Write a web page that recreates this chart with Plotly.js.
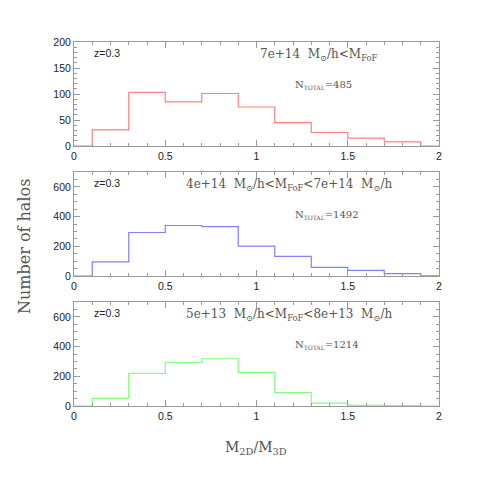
<!DOCTYPE html>
<html>
<head>
<meta charset="utf-8">
<script src="https://cdn.plot.ly/plotly-3.0.1.min.js"></script>
<style>html,body{margin:0;padding:0;background:#fff;}#chart{width:479px;height:479px;}</style>
</head>
<body>
<div id="chart"></div>
<script>
// Bin edges (M2D/M3D) used for the step histograms
const binEdges = [0, 0.1, 0.3, 0.5, 0.7, 0.9, 1.1, 1.3, 1.5, 1.7, 1.9, 2.0];
// Counts per bin (first and last entries are the empty end regions)
const countsHigh = [0, 31, 103, 85, 101, 75, 45, 26, 15, 8, 0, 0];      // 7e+14 < M_FoF
const countsMid  = [0, 96, 293, 340, 333, 201, 132, 58, 38, 16, 2, 2];  // 4e+14 - 7e+14
const countsLow  = [0, 51, 219, 293, 318, 226, 90, 20, 4, 2, 0, 0];     // 5e+13 - 8e+13

const panelTitles = [
  "7e+14  M<sub>⊙</sub>/h&lt;M<sub>FoF</sub>",
  "4e+14  M<sub>⊙</sub>/h&lt;M<sub>FoF</sub>&lt;7e+14  M<sub>⊙</sub>/h",
  "5e+13  M<sub>⊙</sub>/h&lt;M<sub>FoF</sub>&lt;8e+13  M<sub>⊙</sub>/h"
];
const nTotals = ["485", "1492", "1214"];
const redshiftLabel = "z=0.3";
const xTicks = [0, 0.5, 1, 1.5, 2];
const xTickText = ["0", "0.5", "1", "1.5", "2"];

const colors = ["rgb(255,128,128)", "rgb(128,128,255)", "rgb(128,255,128)"];
const series = [countsHigh, countsMid, countsLow];
const axisNames = ["", "2", "3"];

const traces = series.map((s, i) => ({
  x: binEdges, y: s, type: "scatter", mode: "lines",
  line: {shape: "hv", color: colors[i], width: 1.2},
  xaxis: "x" + axisNames[i], yaxis: "y" + axisNames[i],
  hoverinfo: "skip", showlegend: false
}));

const sans = "Liberation Sans, Arial, sans-serif";
const serif = "DejaVu Serif, serif";

function xax(anchor) {
  return {
    range: [0, 2], anchor: anchor, domain: [0, 1],
    showline: true, linecolor: "#999", linewidth: 1, mirror: "ticks",
    ticks: "inside", ticklen: 6, tickcolor: "#999", tickwidth: 1,
    tickvals: xTicks, ticktext: xTickText,
    minor: {dtick: 0.1, ticks: "inside", ticklen: 3, tickcolor: "#999"},
    showgrid: false, zeroline: false,
    tickfont: {family: sans, size: 10.5, color: "#222"}
  };
}
function yax(anchor, dom, max, dt, mdt) {
  return {
    range: [0, max], anchor: anchor, domain: dom,
    showline: true, linecolor: "#999", linewidth: 1, mirror: "ticks",
    ticks: "inside", ticklen: 6, tickcolor: "#999", tickwidth: 1,
    dtick: dt, tick0: 0,
    minor: {dtick: mdt, ticks: "inside", ticklen: 3, tickcolor: "#999"},
    showgrid: false, zeroline: false,
    tickfont: {family: sans, size: 10.5, color: "#222"}
  };
}

const doms = [[0.7143, 1], [0.357, 0.6429], [0, 0.2857]];
const annotations = [];
for (let i = 0; i < 3; i++) {
  const xr = "x" + axisNames[i] + " domain", yr = "y" + axisNames[i] + " domain";
  annotations.push({xref: xr, yref: yr, x: 0.05, y: 0.89, xanchor: "left", yanchor: "middle",
    text: redshiftLabel, showarrow: false, font: {family: sans, size: 10.5, color: "#222"}});
  annotations.push({xref: xr, yref: yr, x: i === 0 ? 0.504 : 0.30, y: 0.875, xanchor: "left", yanchor: "middle",
    text: panelTitles[i], showarrow: false, font: {family: serif, size: 12, color: "#555"}});
  annotations.push({xref: xr, yref: yr, x: 0.6, y: 0.59, xanchor: "left", yanchor: "middle",
    text: "N<sub><span style='font-size:6px'>TOTAL</span></sub>=" + nTotals[i], showarrow: false,
    font: {family: serif, size: 10, color: "#555"}});
}
annotations.push({xref: "paper", yref: "paper", x: -0.134, y: 0.437, xanchor: "center", yanchor: "middle",
  textangle: -90, text: "Number of halos", showarrow: false, font: {family: serif, size: 16, color: "#555"}});
annotations.push({xref: "paper", yref: "paper", x: 0.4986, y: -0.115, xanchor: "center", yanchor: "middle",
  text: "M<sub>2D</sub>/M<sub>3D</sub>", showarrow: false, font: {family: serif, size: 14, color: "#555"}});

const layout = {
  width: 479, height: 479,
  margin: {l: 74, r: 40, t: 42, b: 73},
  paper_bgcolor: "#fff", plot_bgcolor: "#fff",
  xaxis: xax("y"), yaxis: yax("x", doms[0], 200, 50, 10),
  xaxis2: xax("y2"), yaxis2: yax("x2", doms[1], 700, 200, 50),
  xaxis3: xax("y3"), yaxis3: yax("x3", doms[2], 700, 200, 50),
  annotations: annotations
};

Plotly.newPlot("chart", traces, layout, {displayModeBar: false, staticPlot: true});
</script>
</body>
</html>
